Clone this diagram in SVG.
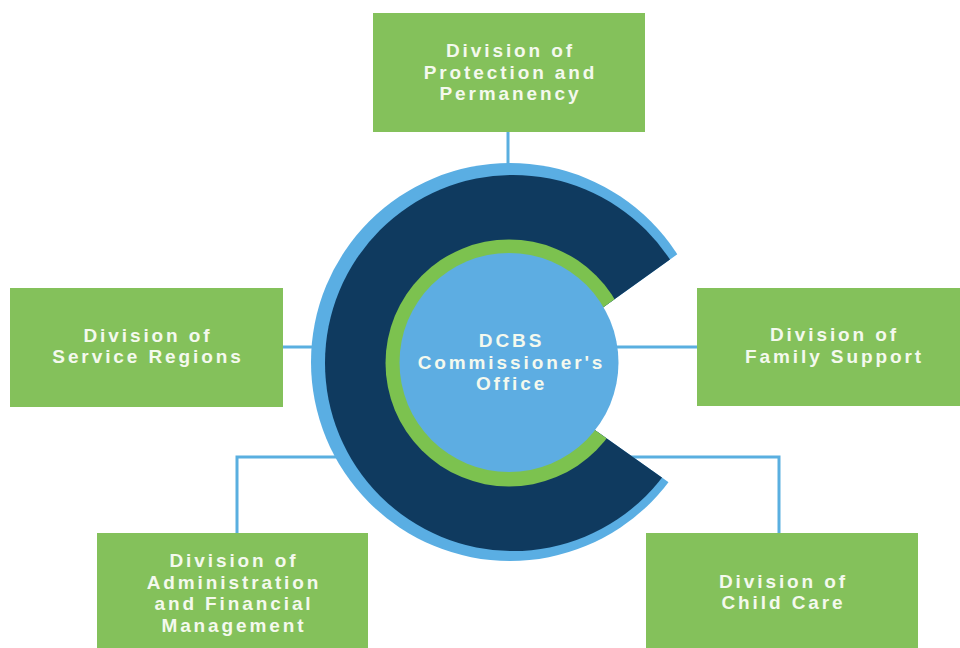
<svg xmlns="http://www.w3.org/2000/svg" width="960" height="648" viewBox="0 0 960 648">
<style>
.box{fill:#84c15b}
.lbl{font-family:"Liberation Sans",Arial,sans-serif;font-weight:bold;font-size:19px;letter-spacing:2.9px;fill:#f4f9ee;text-anchor:middle}
.conn{fill:none;stroke:#5aafe0;stroke-width:3}
</style>
<defs>
<clipPath id="cut">
<polygon points="513,372 760,195 760,100 250,100 250,620 760,620 760,547"/>
</clipPath>
</defs>
<rect width="960" height="648" fill="#ffffff"/>
<g id="connectors">
<line class="conn" x1="508" y1="131" x2="508" y2="175"/>
<line class="conn" x1="282" y1="347" x2="330" y2="347"/>
<line class="conn" x1="610" y1="347" x2="698" y2="347"/>
<polyline class="conn" points="237,534 237,457 345,457"/>
<polyline class="conn" points="620,457 779,457 779,534"/>
</g>
<g id="center">
<g clip-path="url(#cut)">
<circle cx="510" cy="362" r="199" fill="#5aaee3"/>
<circle cx="513" cy="363" r="188" fill="#0f3a5f"/>
<circle cx="509" cy="363" r="123.5" fill="#7cc24f"/>
</g>
<circle cx="509" cy="362.5" r="109.5" fill="#5dade2"/>
<text class="lbl" x="511.5" y="347">DCBS</text>
<text class="lbl" x="511.5" y="369">Commissioner's</text>
<text class="lbl" x="511.5" y="390">Office</text>
</g>
<g id="protection">
<rect class="box" x="373" y="13" width="272" height="119"/>
<text class="lbl" x="510.5" y="57">Division of</text>
<text class="lbl" x="510.5" y="78.5">Protection and</text>
<text class="lbl" x="510.5" y="100">Permanency</text>
</g>
<g id="service">
<rect class="box" x="10" y="288" width="273" height="119"/>
<text class="lbl" x="148" y="342">Division of</text>
<text class="lbl" x="148" y="363">Service Regions</text>
</g>
<g id="family">
<rect class="box" x="697" y="288" width="272" height="118"/>
<text class="lbl" x="834.5" y="341">Division of</text>
<text class="lbl" x="834.5" y="363">Family Support</text>
</g>
<g id="admin">
<rect class="box" x="97" y="533" width="271" height="130"/>
<text class="lbl" x="234" y="567">Division of</text>
<text class="lbl" x="234" y="588.5">Administration</text>
<text class="lbl" x="234" y="610">and Financial</text>
<text class="lbl" x="234" y="632">Management</text>
</g>
<g id="childcare">
<rect class="box" x="646" y="533" width="272" height="130"/>
<text class="lbl" x="783.5" y="588">Division of</text>
<text class="lbl" x="783.5" y="609">Child Care</text>
</g>
</svg>
